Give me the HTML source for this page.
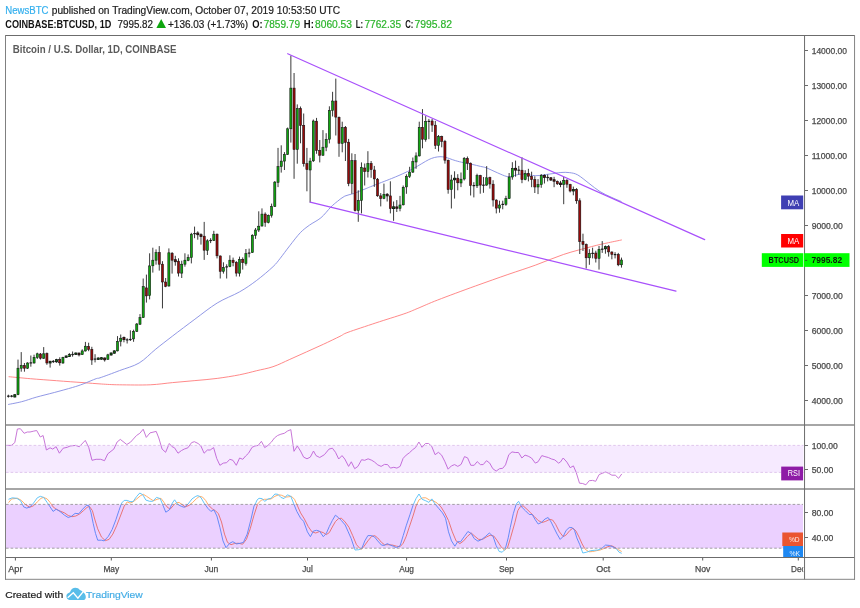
<!DOCTYPE html>
<html lang="en"><head><meta charset="utf-8"><title>BTCUSD chart</title>
<style>html,body{margin:0;padding:0;background:#fff}body{width:860px;height:608px;overflow:hidden}svg{display:block}text{font-family:"Liberation Sans",Arial,sans-serif}</style></head><body>
<svg width="860" height="608" viewBox="0 0 860 608">
<rect width="860" height="608" fill="#fff"/>
<text x="5.3" y="13.8" font-size="10" fill="#35b0ee" textLength="43.2" lengthAdjust="spacingAndGlyphs" stroke="#35b0ee" stroke-width="0.2">NewsBTC</text>
<text x="51.8" y="13.8" font-size="10" fill="#1c1c1c" textLength="288.3" lengthAdjust="spacingAndGlyphs" stroke="#1c1c1c" stroke-width="0.2">published on TradingView.com, October 07, 2019 10:53:50 UTC</text>
<text x="5.3" y="27.6" font-size="10.2" fill="#111" font-weight="bold" textLength="106" lengthAdjust="spacingAndGlyphs">COINBASE:BTCUSD, 1D</text>
<text x="117.5" y="27.6" font-size="10" fill="#1c1c1c" textLength="35.5" lengthAdjust="spacingAndGlyphs" stroke="#1c1c1c" stroke-width="0.2">7995.82</text>
<polygon points="156.4,28 166,28 161.2,19" fill="#0fa60f"/>
<text x="168" y="27.6" font-size="10" fill="#1c1c1c" textLength="80" lengthAdjust="spacingAndGlyphs" stroke="#1c1c1c" stroke-width="0.2">+136.03 (+1.73%)</text>
<text x="252.3" y="27.6" font-size="10.2" fill="#111" font-weight="bold" textLength="10.4" lengthAdjust="spacingAndGlyphs">O:</text>
<text x="263.7" y="27.6" font-size="10" fill="#2db52d" textLength="36.3" lengthAdjust="spacingAndGlyphs" stroke="#2db52d" stroke-width="0.2">7859.79</text>
<text x="303.8" y="27.6" font-size="10.2" fill="#111" font-weight="bold" textLength="10" lengthAdjust="spacingAndGlyphs">H:</text>
<text x="315" y="27.6" font-size="10" fill="#2db52d" textLength="37" lengthAdjust="spacingAndGlyphs" stroke="#2db52d" stroke-width="0.2">8060.53</text>
<text x="355.8" y="27.6" font-size="10.2" fill="#111" font-weight="bold" textLength="7.4" lengthAdjust="spacingAndGlyphs">L:</text>
<text x="364.5" y="27.6" font-size="10" fill="#2db52d" textLength="36.5" lengthAdjust="spacingAndGlyphs" stroke="#2db52d" stroke-width="0.2">7762.35</text>
<text x="405.2" y="27.6" font-size="10.2" fill="#111" font-weight="bold" textLength="8.1" lengthAdjust="spacingAndGlyphs">C:</text>
<text x="414.5" y="27.6" font-size="10" fill="#2db52d" textLength="37.5" lengthAdjust="spacingAndGlyphs" stroke="#2db52d" stroke-width="0.2">7995.82</text>
<defs><clipPath id="cm"><rect x="6" y="36" width="798" height="388"/></clipPath><clipPath id="ct"><rect x="6" y="558" width="797.2" height="21"/></clipPath></defs>
<path d="M6.2,445.4 L11.4,445.4 L14.8,442.6 L17.4,429.0 L20.4,428.7 L24.1,433.3 L27.3,432.0 L30.0,432.0 L33.8,431.1 L36.7,430.5 L40.3,437.0 L43.1,435.5 L46.4,450.0 L50.1,447.8 L52.7,449.1 L56.1,446.7 L59.4,453.2 L63.2,448.2 L67.3,447.3 L70.0,446.0 L75.6,445.4 L79.3,446.7 L85.3,440.4 L88.7,447.3 L92.0,460.3 L96.1,459.3 L100.7,459.3 L104.5,460.7 L107.8,453.8 L113.8,449.1 L117.1,442.0 L120.3,439.4 L126.8,444.5 L130.5,442.2 L136.5,435.5 L139.8,433.3 L143.2,429.2 L146.3,437.4 L150.0,432.9 L156.2,431.4 L158.8,438.0 L162.1,449.1 L165.6,452.3 L169.3,443.5 L172.1,446.7 L174.5,447.8 L178.0,453.2 L181.4,450.6 L184.2,449.1 L187.9,447.8 L191.6,442.6 L194.4,441.7 L198.1,443.5 L200.9,446.0 L204.1,453.2 L207.4,450.0 L210.2,450.0 L213.6,447.6 L216.7,458.4 L219.9,465.3 L223.3,463.1 L226.6,462.7 L229.8,459.3 L232.9,460.3 L236.3,465.3 L239.6,458.0 L242.8,459.3 L245.6,456.0 L248.4,453.4 L252.1,447.3 L254.9,446.0 L258.2,445.4 L261.4,441.3 L264.7,447.6 L267.9,445.4 L271.3,442.2 L274.4,438.0 L277.6,435.5 L280.9,434.2 L284.3,433.3 L287.4,431.1 L290.8,429.6 L294.0,451.3 L297.3,446.0 L300.5,451.0 L303.6,457.1 L307.0,458.8 L310.3,457.1 L313.5,451.0 L316.0,455.6 L319.7,457.5 L324.4,454.7 L329.0,449.1 L332.4,448.2 L335.5,452.3 L338.7,459.0 L342.0,455.6 L344.8,459.0 L348.6,466.4 L351.3,461.8 L354.7,468.7 L357.9,466.4 L361.6,459.7 L364.7,460.3 L368.1,458.8 L371.8,460.3 L374.6,462.1 L377.8,464.9 L381.1,466.4 L384.5,464.4 L387.6,464.6 L390.4,468.1 L393.8,467.3 L396.9,468.1 L400.1,466.4 L403.1,458.4 L406.2,455.1 L409.4,452.8 L412.7,449.7 L415.5,447.6 L418.9,442.0 L422.0,447.3 L425.4,443.5 L428.6,443.5 L431.7,446.3 L435.1,454.7 L438.4,452.3 L441.6,455.1 L444.7,461.2 L448.1,469.2 L451.4,465.9 L454.6,464.6 L457.8,466.4 L461.1,464.4 L464.5,456.6 L467.6,457.9 L470.8,465.3 L472.0,465.3 L474.2,465.3 L477.2,461.6 L480.4,464.6 L483.2,464.6 L486.5,460.7 L489.7,463.1 L492.8,468.7 L496.2,471.1 L499.5,468.7 L502.7,468.3 L505.5,464.9 L508.8,454.7 L512.0,451.9 L515.2,452.5 L518.5,452.5 L521.9,458.0 L525.0,455.1 L528.2,456.2 L531.5,458.0 L535.3,463.1 L538.0,461.8 L541.8,455.6 L544.9,456.6 L548.3,457.5 L551.6,459.0 L554.8,459.9 L558.5,463.1 L560.4,462.1 L563.2,458.0 L566.9,462.1 L570.2,467.7 L573.4,465.9 L576.2,472.4 L579.5,483.2 L582.7,483.5 L585.9,484.8 L589.2,480.7 L592.6,480.4 L595.7,481.3 L599.1,474.6 L602.2,473.3 L605.6,472.0 L608.7,473.3 L611.9,475.2 L615.3,475.2 L618.6,478.3 L621.8,473.9" fill="none" stroke="#c978d8" stroke-width="1" stroke-linejoin="round"/>
<rect x="6" y="445.4" width="797.5" height="27" fill="rgb(153,21,255)" fill-opacity="0.09"/>
<path d="M6,445.4H803.5M6,472.4H803.5" stroke="#dcc0ea" stroke-width="0.85" stroke-dasharray="2.6 2" fill="none"/>
<defs><clipPath id="cso"><path d="M0,489H860V504.4H0ZM0,548.2H860V557H0Z"/></clipPath><clipPath id="csi"><rect x="0" y="504.4" width="860" height="43.8"/></clipPath></defs>
<g clip-path="url(#cso)"><path d="M8.5,502.7 L11.6,498.9 L17.6,498.3 L21.4,500.4 L25.2,504.3 L29.7,507.3 L33.5,505.8 L37.3,501.9 L41.0,498.3 L43.6,497.4 L47.1,498.9 L50.1,502.4 L53.1,506.9 L56.2,509.2 L59.9,511.0 L64.5,512.9 L68.2,515.5 L72.0,516.7 L75.8,516.0 L79.6,514.0 L83.4,510.7 L87.1,507.3 L89.4,506.4 L92.4,510.7 L94.7,519.0 L97.7,528.8 L101.5,537.1 L105.3,540.6 L109.1,539.4 L112.8,534.1 L116.6,525.8 L120.4,516.0 L124.2,506.1 L127.2,501.9 L130.0,503.1 L133.0,501.9 L136.8,498.9 L140.6,495.6 L143.3,494.3 L146.6,496.3 L150.4,498.9 L153.4,500.8 L157.2,499.3 L161.0,498.3 L164.0,502.4 L167.0,506.9 L170.1,509.2 L173.1,505.8 L176.1,502.8 L179.1,502.4 L182.2,504.6 L185.2,506.9 L189.0,505.4 L192.7,502.4 L196.5,498.6 L199.5,496.3 L202.6,497.1 L205.6,500.4 L208.6,505.4 L212.4,508.9 L215.4,510.7 L218.4,513.7 L221.5,522.0 L224.5,534.1 L227.5,542.4 L231.0,544.7 L234.3,543.6 L238.1,543.2 L242.6,544.2 L246.4,539.4 L250.2,528.8 L254.0,515.2 L257.7,503.9 L261.3,500.1 L264.3,499.3 L268.1,499.3 L271.1,498.9 L274.9,496.3 L278.7,494.8 L281.7,495.3 L285.5,497.1 L288.5,496.8 L291.5,496.3 L294.5,499.3 L297.6,506.1 L300.6,512.9 L304.4,519.0 L308.2,526.5 L311.9,531.8 L315.7,533.0 L319.5,531.5 L323.3,532.6 L326.3,534.6 L329.3,532.6 L332.3,527.0 L335.4,521.6 L338.4,518.7 L341.4,518.2 L345.2,522.0 L349.0,527.3 L352.7,535.6 L356.5,544.7 L361.1,549.7 L364.1,546.2 L367.9,540.9 L371.6,536.4 L374.7,535.6 L377.7,537.9 L381.5,542.4 L384.5,544.7 L388.8,544.7 L392.6,545.1 L396.4,546.2 L400.1,546.7 L403.2,543.2 L406.2,536.4 L409.2,527.3 L413.0,516.0 L416.0,506.1 L419.0,499.8 L422.8,497.8 L425.8,497.8 L429.6,500.1 L433.4,500.8 L437.2,503.1 L441.0,506.9 L444.7,512.9 L448.5,520.5 L452.3,531.8 L456.1,540.9 L459.9,543.6 L463.6,540.9 L467.4,536.4 L471.2,533.0 L475.0,536.4 L478.7,539.4 L482.5,539.4 L486.3,537.1 L490.1,535.2 L493.9,536.1 L496.9,540.2 L500.7,546.2 L504.4,550.3 L507.5,547.7 L510.5,537.9 L514.8,522.8 L517.8,510.7 L520.1,506.9 L523.1,505.8 L526.9,509.2 L530.7,512.9 L534.5,516.7 L538.2,520.5 L542.0,522.5 L545.8,521.3 L549.6,519.4 L552.6,520.0 L555.6,524.3 L559.4,531.8 L563.2,536.7 L566.2,534.9 L570.0,530.3 L573.0,528.1 L576.0,531.1 L579.1,537.1 L582.1,543.9 L585.1,549.2 L588.9,551.8 L592.7,551.5 L596.4,550.7 L600.2,550.0 L604.0,548.5 L607.8,546.7 L611.6,545.7 L615.3,547.7 L618.4,549.7 L621.7,551.5" fill="none" stroke="#ffaa62" stroke-width="0.95" stroke-linejoin="round"/>
<path d="M8.5,499.3 L12.3,497.8 L16.8,498.3 L20.6,500.8 L23.7,506.9 L26.7,508.1 L30.0,506.9 L33.5,503.1 L37.3,497.8 L40.3,496.3 L43.6,497.4 L47.1,502.4 L50.1,506.9 L53.1,511.4 L56.2,509.2 L59.9,511.4 L64.5,515.2 L68.2,517.5 L71.3,516.4 L75.1,513.4 L78.8,513.7 L82.6,509.2 L86.4,505.4 L88.7,505.4 L90.9,512.2 L93.2,523.5 L95.5,533.4 L97.7,540.2 L101.5,540.2 L104.1,540.9 L108.3,536.4 L112.1,529.6 L115.9,519.7 L118.9,510.7 L121.6,503.1 L124.2,500.4 L127.2,500.4 L130.0,501.6 L133.0,501.6 L136.8,496.3 L139.8,493.0 L142.8,494.8 L145.9,500.1 L149.7,501.3 L152.7,501.3 L156.5,497.4 L160.2,498.6 L163.3,506.1 L165.8,512.2 L169.3,509.9 L172.3,503.1 L174.6,499.8 L177.6,504.3 L181.4,506.4 L184.4,507.3 L188.2,503.9 L192.0,498.9 L195.8,496.3 L198.0,495.6 L201.1,497.8 L204.1,503.1 L207.9,508.4 L210.9,511.4 L213.9,509.9 L216.9,516.0 L219.9,527.3 L223.0,540.9 L226.0,547.7 L229.8,543.2 L232.8,541.7 L236.6,543.9 L240.4,543.2 L243.4,542.4 L247.2,534.1 L250.9,519.7 L254.0,506.1 L256.0,502.4 L257.0,500.1 L259.0,498.3 L262.0,498.6 L264.8,501.3 L268.1,498.9 L271.1,498.3 L274.9,494.0 L277.9,494.3 L280.9,497.4 L284.0,498.6 L287.4,494.8 L290.8,496.3 L293.8,503.9 L296.8,511.4 L300.6,518.2 L303.6,521.3 L307.4,531.8 L310.4,536.7 L313.4,531.1 L316.5,530.3 L319.5,531.1 L323.3,536.7 L326.3,533.4 L329.3,526.5 L332.3,520.5 L335.4,515.2 L338.4,517.5 L341.4,520.5 L345.2,525.0 L348.2,531.8 L351.2,538.6 L355.0,550.0 L358.8,549.7 L361.8,548.5 L364.8,540.9 L367.9,535.6 L371.6,535.6 L374.7,537.1 L377.7,540.9 L381.5,545.1 L384.3,545.4 L387.3,543.6 L390.3,545.1 L393.3,546.2 L396.4,547.7 L400.1,545.7 L403.2,535.6 L406.2,525.8 L410.0,514.5 L413.0,505.4 L416.0,498.6 L419.0,494.0 L422.1,499.3 L425.8,500.8 L428.9,502.4 L431.9,498.9 L434.9,503.9 L438.7,508.4 L442.5,512.9 L445.5,518.2 L448.5,531.8 L451.5,540.9 L454.9,546.2 L457.6,541.7 L460.6,541.7 L464.4,536.4 L467.9,531.5 L471.2,533.4 L474.2,538.6 L478.0,541.2 L481.8,539.4 L485.6,536.4 L489.3,533.0 L493.1,536.4 L496.1,545.4 L499.2,551.5 L502.2,552.2 L505.2,549.2 L508.2,537.9 L510.3,527.3 L513.3,513.7 L516.3,503.9 L518.6,501.3 L521.6,506.9 L525.4,510.7 L529.2,514.5 L532.2,514.5 L535.2,519.7 L538.2,524.0 L541.3,522.5 L545.0,519.0 L548.1,517.5 L551.1,522.0 L554.1,528.1 L557.1,534.1 L560.2,539.4 L563.2,536.4 L566.2,530.3 L569.2,527.6 L572.2,527.6 L574.5,530.3 L576.8,537.9 L579.8,544.7 L582.8,553.0 L586.6,552.2 L590.4,550.7 L594.2,550.3 L597.9,550.0 L601.7,548.5 L605.5,545.1 L609.3,545.4 L613.1,547.0 L616.1,548.5 L619.1,552.2 L621.7,553.3" fill="none" stroke="#5cc2f8" stroke-width="0.95" stroke-linejoin="round"/></g>
<rect x="6" y="504.4" width="797" height="43.8" fill="rgb(153,21,255)" fill-opacity="0.2"/>
<g clip-path="url(#csi)"><path d="M8.5,502.7 L11.6,498.9 L17.6,498.3 L21.4,500.4 L25.2,504.3 L29.7,507.3 L33.5,505.8 L37.3,501.9 L41.0,498.3 L43.6,497.4 L47.1,498.9 L50.1,502.4 L53.1,506.9 L56.2,509.2 L59.9,511.0 L64.5,512.9 L68.2,515.5 L72.0,516.7 L75.8,516.0 L79.6,514.0 L83.4,510.7 L87.1,507.3 L89.4,506.4 L92.4,510.7 L94.7,519.0 L97.7,528.8 L101.5,537.1 L105.3,540.6 L109.1,539.4 L112.8,534.1 L116.6,525.8 L120.4,516.0 L124.2,506.1 L127.2,501.9 L130.0,503.1 L133.0,501.9 L136.8,498.9 L140.6,495.6 L143.3,494.3 L146.6,496.3 L150.4,498.9 L153.4,500.8 L157.2,499.3 L161.0,498.3 L164.0,502.4 L167.0,506.9 L170.1,509.2 L173.1,505.8 L176.1,502.8 L179.1,502.4 L182.2,504.6 L185.2,506.9 L189.0,505.4 L192.7,502.4 L196.5,498.6 L199.5,496.3 L202.6,497.1 L205.6,500.4 L208.6,505.4 L212.4,508.9 L215.4,510.7 L218.4,513.7 L221.5,522.0 L224.5,534.1 L227.5,542.4 L231.0,544.7 L234.3,543.6 L238.1,543.2 L242.6,544.2 L246.4,539.4 L250.2,528.8 L254.0,515.2 L257.7,503.9 L261.3,500.1 L264.3,499.3 L268.1,499.3 L271.1,498.9 L274.9,496.3 L278.7,494.8 L281.7,495.3 L285.5,497.1 L288.5,496.8 L291.5,496.3 L294.5,499.3 L297.6,506.1 L300.6,512.9 L304.4,519.0 L308.2,526.5 L311.9,531.8 L315.7,533.0 L319.5,531.5 L323.3,532.6 L326.3,534.6 L329.3,532.6 L332.3,527.0 L335.4,521.6 L338.4,518.7 L341.4,518.2 L345.2,522.0 L349.0,527.3 L352.7,535.6 L356.5,544.7 L361.1,549.7 L364.1,546.2 L367.9,540.9 L371.6,536.4 L374.7,535.6 L377.7,537.9 L381.5,542.4 L384.5,544.7 L388.8,544.7 L392.6,545.1 L396.4,546.2 L400.1,546.7 L403.2,543.2 L406.2,536.4 L409.2,527.3 L413.0,516.0 L416.0,506.1 L419.0,499.8 L422.8,497.8 L425.8,497.8 L429.6,500.1 L433.4,500.8 L437.2,503.1 L441.0,506.9 L444.7,512.9 L448.5,520.5 L452.3,531.8 L456.1,540.9 L459.9,543.6 L463.6,540.9 L467.4,536.4 L471.2,533.0 L475.0,536.4 L478.7,539.4 L482.5,539.4 L486.3,537.1 L490.1,535.2 L493.9,536.1 L496.9,540.2 L500.7,546.2 L504.4,550.3 L507.5,547.7 L510.5,537.9 L514.8,522.8 L517.8,510.7 L520.1,506.9 L523.1,505.8 L526.9,509.2 L530.7,512.9 L534.5,516.7 L538.2,520.5 L542.0,522.5 L545.8,521.3 L549.6,519.4 L552.6,520.0 L555.6,524.3 L559.4,531.8 L563.2,536.7 L566.2,534.9 L570.0,530.3 L573.0,528.1 L576.0,531.1 L579.1,537.1 L582.1,543.9 L585.1,549.2 L588.9,551.8 L592.7,551.5 L596.4,550.7 L600.2,550.0 L604.0,548.5 L607.8,546.7 L611.6,545.7 L615.3,547.7 L618.4,549.7 L621.7,551.5" fill="none" stroke="#e87070" stroke-width="0.95" stroke-linejoin="round"/>
<path d="M8.5,499.3 L12.3,497.8 L16.8,498.3 L20.6,500.8 L23.7,506.9 L26.7,508.1 L30.0,506.9 L33.5,503.1 L37.3,497.8 L40.3,496.3 L43.6,497.4 L47.1,502.4 L50.1,506.9 L53.1,511.4 L56.2,509.2 L59.9,511.4 L64.5,515.2 L68.2,517.5 L71.3,516.4 L75.1,513.4 L78.8,513.7 L82.6,509.2 L86.4,505.4 L88.7,505.4 L90.9,512.2 L93.2,523.5 L95.5,533.4 L97.7,540.2 L101.5,540.2 L104.1,540.9 L108.3,536.4 L112.1,529.6 L115.9,519.7 L118.9,510.7 L121.6,503.1 L124.2,500.4 L127.2,500.4 L130.0,501.6 L133.0,501.6 L136.8,496.3 L139.8,493.0 L142.8,494.8 L145.9,500.1 L149.7,501.3 L152.7,501.3 L156.5,497.4 L160.2,498.6 L163.3,506.1 L165.8,512.2 L169.3,509.9 L172.3,503.1 L174.6,499.8 L177.6,504.3 L181.4,506.4 L184.4,507.3 L188.2,503.9 L192.0,498.9 L195.8,496.3 L198.0,495.6 L201.1,497.8 L204.1,503.1 L207.9,508.4 L210.9,511.4 L213.9,509.9 L216.9,516.0 L219.9,527.3 L223.0,540.9 L226.0,547.7 L229.8,543.2 L232.8,541.7 L236.6,543.9 L240.4,543.2 L243.4,542.4 L247.2,534.1 L250.9,519.7 L254.0,506.1 L256.0,502.4 L257.0,500.1 L259.0,498.3 L262.0,498.6 L264.8,501.3 L268.1,498.9 L271.1,498.3 L274.9,494.0 L277.9,494.3 L280.9,497.4 L284.0,498.6 L287.4,494.8 L290.8,496.3 L293.8,503.9 L296.8,511.4 L300.6,518.2 L303.6,521.3 L307.4,531.8 L310.4,536.7 L313.4,531.1 L316.5,530.3 L319.5,531.1 L323.3,536.7 L326.3,533.4 L329.3,526.5 L332.3,520.5 L335.4,515.2 L338.4,517.5 L341.4,520.5 L345.2,525.0 L348.2,531.8 L351.2,538.6 L355.0,550.0 L358.8,549.7 L361.8,548.5 L364.8,540.9 L367.9,535.6 L371.6,535.6 L374.7,537.1 L377.7,540.9 L381.5,545.1 L384.3,545.4 L387.3,543.6 L390.3,545.1 L393.3,546.2 L396.4,547.7 L400.1,545.7 L403.2,535.6 L406.2,525.8 L410.0,514.5 L413.0,505.4 L416.0,498.6 L419.0,494.0 L422.1,499.3 L425.8,500.8 L428.9,502.4 L431.9,498.9 L434.9,503.9 L438.7,508.4 L442.5,512.9 L445.5,518.2 L448.5,531.8 L451.5,540.9 L454.9,546.2 L457.6,541.7 L460.6,541.7 L464.4,536.4 L467.9,531.5 L471.2,533.4 L474.2,538.6 L478.0,541.2 L481.8,539.4 L485.6,536.4 L489.3,533.0 L493.1,536.4 L496.1,545.4 L499.2,551.5 L502.2,552.2 L505.2,549.2 L508.2,537.9 L510.3,527.3 L513.3,513.7 L516.3,503.9 L518.6,501.3 L521.6,506.9 L525.4,510.7 L529.2,514.5 L532.2,514.5 L535.2,519.7 L538.2,524.0 L541.3,522.5 L545.0,519.0 L548.1,517.5 L551.1,522.0 L554.1,528.1 L557.1,534.1 L560.2,539.4 L563.2,536.4 L566.2,530.3 L569.2,527.6 L572.2,527.6 L574.5,530.3 L576.8,537.9 L579.8,544.7 L582.8,553.0 L586.6,552.2 L590.4,550.7 L594.2,550.3 L597.9,550.0 L601.7,548.5 L605.5,545.1 L609.3,545.4 L613.1,547.0 L616.1,548.5 L619.1,552.2 L621.7,553.3" fill="none" stroke="#5f86f8" stroke-width="0.95" stroke-linejoin="round"/></g>
<path d="M6,504.4H803M6,548.2H803" stroke="#868686" stroke-width="0.75" stroke-dasharray="2.6 2" fill="none"/>
<g clip-path="url(#cm)">
<path d="M8.6,376.7 C12.2,377.0 22.3,378.0 30.3,378.7 C38.3,379.4 47.8,380.0 56.6,380.7 C65.4,381.4 75.5,382.1 83.0,382.6 C90.5,383.2 95.3,383.6 101.4,384.0 C107.5,384.4 111.4,384.7 119.5,384.8 C127.6,384.9 141.3,385.2 150.2,384.8 C159.0,384.4 165.1,383.3 172.6,382.6 C180.1,381.9 187.5,381.3 194.9,380.6 C202.3,379.9 209.8,379.4 217.2,378.4 C224.6,377.4 233.0,376.1 239.5,374.8 C246.0,373.5 250.7,372.2 256.3,370.8 C261.9,369.4 267.4,368.6 273.0,366.7 C278.6,364.8 284.2,361.9 289.8,359.4 C295.4,356.9 300.9,354.4 306.5,351.9 C312.1,349.4 317.7,346.9 323.3,344.3 C328.9,341.7 335.9,338.3 340.0,336.3 C344.1,334.3 342.0,334.5 348.0,332.3 C354.0,330.1 366.6,326.0 375.9,322.9 C385.2,319.8 396.9,316.3 403.9,313.9 C410.9,311.5 412.3,310.6 417.9,308.3 C423.5,306.0 428.1,303.7 437.7,300.0 C447.3,296.3 463.7,290.2 475.4,286.0 C487.1,281.8 497.8,278.0 507.9,274.5 C518.0,271.0 526.5,268.4 535.8,265.0 C545.1,261.6 554.4,257.5 563.7,254.4 C573.0,251.3 584.2,248.6 591.6,246.6 C599.0,244.6 603.4,243.8 608.4,242.7 C613.4,241.6 619.6,240.4 621.8,239.9" fill="none" stroke="#ff7c7c" stroke-width="0.9" stroke-linejoin="round"/>
<path d="M8.2,404.5 C10.4,404.0 17.0,402.9 21.7,401.7 C26.4,400.5 30.8,398.7 36.2,397.2 C41.6,395.7 48.3,394.1 54.3,392.5 C60.3,390.9 67.6,388.9 72.4,387.5 C77.2,386.1 79.0,385.5 83.0,384.0 C87.0,382.5 93.3,379.7 96.1,378.7 C98.9,377.7 96.1,379.1 100.0,377.8 C103.9,376.5 113.0,373.1 119.5,370.6 C126.0,368.1 133.0,366.6 139.1,363.0 C145.2,359.4 150.2,353.6 155.8,349.1 C161.4,344.6 166.1,341.0 172.6,336.0 C179.1,331.0 187.5,324.7 194.9,319.2 C202.3,313.7 209.8,307.6 217.2,303.0 C224.6,298.4 233.0,295.6 239.5,291.9 C246.0,288.2 250.7,284.9 256.3,280.7 C261.9,276.5 269.1,270.4 273.0,266.7 C276.9,263.0 277.2,262.1 280.0,258.6 C282.8,255.1 286.3,250.1 289.7,245.8 C293.1,241.5 297.1,236.0 300.4,232.6 C303.7,229.2 306.0,227.7 309.4,225.2 C312.8,222.7 317.3,220.8 320.9,217.8 C324.5,214.8 328.1,209.8 330.8,207.1 C333.6,204.4 335.1,203.2 337.4,201.4 C339.7,199.6 342.1,197.4 344.8,196.1 C347.5,194.8 350.4,194.7 353.8,193.5 C357.2,192.3 361.9,190.2 365.0,189.0 C368.1,187.8 367.7,187.8 372.1,186.1 C376.5,184.3 386.1,180.7 391.6,178.5 C397.1,176.3 401.4,174.4 405.0,172.7 C408.6,171.0 410.6,170.0 413.4,168.5 C416.2,167.0 419.2,165.1 421.8,163.6 C424.4,162.1 426.7,160.6 428.8,159.6 C430.9,158.6 432.5,158.0 434.4,157.5 C436.3,157.0 438.2,156.8 440.0,156.7 C441.8,156.6 443.3,156.9 444.9,157.2 C446.5,157.5 448.1,158.1 449.8,158.7 C451.5,159.3 453.0,159.9 455.3,160.6 C457.6,161.3 460.9,162.1 463.7,162.7 C466.5,163.3 469.3,163.8 472.1,164.4 C474.9,165.0 478.1,165.8 480.5,166.4 C482.9,167.0 483.6,166.8 486.5,167.9 C489.4,169.0 494.4,171.5 497.7,172.9 C501.0,174.3 503.8,175.7 506.1,176.3 C508.4,176.9 509.0,176.7 511.6,176.3 C514.2,175.9 517.9,174.1 521.9,174.0 C525.9,173.9 531.1,175.7 535.8,175.7 C540.4,175.7 545.6,174.5 549.8,174.0 C554.0,173.5 557.6,172.7 560.9,172.5 C564.1,172.3 566.5,172.2 569.3,172.6 C572.1,173.0 574.4,173.1 577.7,174.9 C581.0,176.7 585.2,180.5 588.9,183.3 C592.6,186.1 596.3,189.3 600.0,191.6 C603.7,193.9 607.6,195.5 611.2,197.2 C614.8,198.9 619.8,200.9 621.5,201.6" fill="none" stroke="#848ce2" stroke-width="0.9" stroke-linejoin="round"/>
<path d="M8.38,394.7V397.6M11.59,395.0V397.3M14.80,394.2V397.4M18.01,359.6V395.2M21.22,352.1V371.7M24.43,363.0V371.7M27.64,362.2V369.0M30.85,355.5V366.7M34.06,354.7V363.6M37.27,352.7V359.0M40.48,353.0V359.5M43.69,347.1V359.0M46.90,352.5V364.8M50.11,360.8V367.6M53.32,360.0V363.0M56.53,358.8V362.8M59.74,357.3V365.6M62.95,356.8V363.8M66.16,355.4V357.8M69.37,353.1V357.0M72.58,351.5V356.7M75.79,352.5V355.0M79.00,352.6V356.4M82.21,349.3V355.0M85.42,341.9V351.5M88.63,342.7V351.2M91.84,346.8V364.9M95.05,354.2V362.4M98.26,357.4V360.0M101.47,357.0V359.8M104.68,357.5V361.6M107.89,353.8V359.8M111.10,352.4V355.6M114.31,350.2V353.8M117.52,336.1V351.4M120.73,334.5V346.4M123.94,336.5V342.3M127.15,338.2V343.5M130.36,330.3V341.0M133.57,329.7V341.8M136.78,323.0V332.0M139.99,314.1V325.0M143.20,278.5V318.0M146.41,274.6V302.6M149.62,253.3V299.4M152.83,247.7V272.6M156.04,249.4V264.7M159.25,246.1V270.6M162.46,261.2V308.4M165.67,278.0V287.2M168.88,248.4V286.6M172.09,252.0V273.6M175.30,255.8V265.7M178.51,258.3V276.5M181.72,260.7V278.0M184.93,253.3V266.7M188.14,254.4V261.2M191.35,232.8V263.4M194.56,226.6V238.2M197.77,231.3V239.7M200.98,233.3V244.6M204.19,221.9V259.9M207.40,239.2V255.0M210.61,238.2V243.1M213.82,230.8V241.0M217.03,233.5V258.4M220.24,255.4V278.5M223.45,262.3V273.6M226.66,264.3V278.5M229.87,255.3V267.2M233.08,257.6V266.3M236.29,261.1V276.5M239.50,256.6V276.5M242.71,257.4V269.6M245.92,249.0V265.6M249.13,248.6V257.4M252.34,234.2V253.0M255.55,228.0V238.9M258.76,211.3V232.0M261.97,208.4V226.6M265.18,212.4V226.8M268.39,214.5V223.4M271.60,203.6V217.6M274.81,181.0V207.0M278.02,147.9V187.1M281.23,145.3V172.6M284.44,152.1V170.0M287.65,127.5V155.0M290.86,55.5V142.6M294.07,73.0V178.8M297.28,104.4V163.7M300.49,106.5V143.3M303.70,113.5V166.6M306.91,147.9V191.3M310.12,157.8V202.5M313.33,119.5V162.0M316.54,117.9V153.8M319.75,140.0V162.4M322.96,130.1V156.0M326.17,133.2V151.2M329.38,106.3V143.4M332.59,91.8V116.5M335.80,78.6V135.5M339.01,116.5V156.8M342.22,121.7V152.3M345.43,126.0V161.0M348.64,138.9V186.2M351.85,153.3V193.8M355.06,154.0V211.5M358.27,190.3V221.8M361.48,162.4V213.4M364.69,163.5V185.5M367.90,151.2V177.5M371.11,161.0V177.8M374.32,165.9V186.9M377.53,178.0V196.8M380.74,193.1V206.4M383.95,183.6V199.2M387.16,193.0V201.5M390.37,181.3V213.4M393.58,201.5V220.8M396.79,200.1V212.0M400.00,195.9V211.3M403.21,185.5V205.5M406.42,174.3V193.8M409.63,166.8V178.0M412.84,157.5V173.0M416.05,152.4V168.8M419.26,121.7V156.5M422.47,109.1V148.3M425.68,116.1V141.7M428.89,118.9V139.2M432.10,118.9V131.9M435.31,121.0V149.0M438.52,135.0V151.5M441.73,135.7V147.3M444.94,139.9V163.6M448.15,159.5V193.7M451.36,174.8V208.5M454.57,171.3V198.6M457.78,174.2V190.3M460.99,172.5V187.1M464.20,157.0V180.5M467.41,156.5V170.0M470.62,162.5V195.5M473.83,182.2V197.4M477.04,173.7V188.0M480.25,174.8V193.7M483.46,177.0V192.8M486.67,166.1V185.8M489.88,176.7V188.6M493.09,180.2V206.6M496.30,199.3V213.4M499.51,200.7V212.7M502.72,200.7V209.3M505.93,195.8V205.8M509.14,173.0V199.0M512.35,162.2V179.7M515.56,160.6V176.7M518.77,165.9V174.6M521.98,157.3V183.2M525.19,170.2V180.3M528.40,168.8V181.4M531.61,171.7V187.2M534.82,176.3V193.0M538.03,179.1V194.1M541.24,174.0V187.8M544.45,174.3V183.5M547.66,174.5V181.4M550.87,177.0V181.0M554.08,176.8V187.2M557.29,180.5V185.0M560.50,180.9V187.2M563.71,176.8V204.2M566.92,179.1V187.8M570.13,183.8V192.4M573.34,186.6V195.3M576.55,188.1V203.8M579.76,198.3V254.0M582.97,233.7V251.0M586.18,243.5V268.5M589.39,249.2V264.8M592.60,247.7V258.4M595.81,250.7V262.5M599.02,246.0V269.6M602.23,241.1V252.9M605.44,245.5V253.7M608.65,245.0V256.6M611.86,251.4V259.3M615.07,252.2V258.4M618.28,252.9V266.2M621.49,257.6V267.6" stroke="#3a3a3a" stroke-width="1" fill="none"/>
<g fill="#1a1a1a"><rect x="7.08" y="395.6" width="2.6" height="1.2"/><rect x="10.29" y="395.6" width="2.6" height="1.2"/><rect x="29.55" y="362.3" width="2.6" height="1.2"/><rect x="52.02" y="360.9" width="2.6" height="1.2"/><rect x="71.28" y="353.9" width="2.6" height="1.2"/><rect x="93.75" y="358.5" width="2.6" height="1.2"/><rect x="125.85" y="339.3" width="2.6" height="1.2"/><rect x="129.06" y="338.9" width="2.6" height="1.2"/><rect x="193.26" y="233.0" width="2.6" height="1.2"/><rect x="209.31" y="239.9" width="2.6" height="1.2"/><rect x="225.36" y="266.3" width="2.6" height="1.2"/><rect x="247.83" y="252.5" width="2.6" height="1.2"/><rect x="427.59" y="120.8" width="2.6" height="1.2"/><rect x="472.53" y="185.0" width="2.6" height="1.2"/><rect x="482.16" y="184.6" width="2.6" height="1.2"/><rect x="501.42" y="203.8" width="2.6" height="1.2"/><rect x="517.47" y="169.6" width="2.6" height="1.2"/><rect x="546.36" y="176.9" width="2.6" height="1.2"/><rect x="591.30" y="252.8" width="2.6" height="1.2"/><rect x="600.93" y="248.6" width="2.6" height="1.2"/><rect x="613.77" y="254.0" width="2.6" height="1.2"/></g>
<g fill="#10a510" stroke="#111" stroke-width="0.55"><rect x="16.96" y="368.2" width="2.1" height="26.5"/><rect x="20.17" y="365.6" width="2.1" height="2.6"/><rect x="26.59" y="363.0" width="2.1" height="5.2"/><rect x="33.01" y="357.3" width="2.1" height="5.7"/><rect x="36.22" y="353.8" width="2.1" height="3.8"/><rect x="42.64" y="353.8" width="2.1" height="4.4"/><rect x="61.90" y="357.4" width="2.1" height="5.6"/><rect x="81.16" y="350.9" width="2.1" height="3.7"/><rect x="84.37" y="346.2" width="2.1" height="4.8"/><rect x="106.84" y="354.8" width="2.1" height="4.5"/><rect x="116.47" y="341.4" width="2.1" height="9.5"/><rect x="119.68" y="338.2" width="2.1" height="3.0"/><rect x="132.52" y="331.4" width="2.1" height="7.5"/><rect x="135.73" y="324.0" width="2.1" height="7.4"/><rect x="138.94" y="317.6" width="2.1" height="6.6"/><rect x="142.15" y="286.7" width="2.1" height="30.9"/><rect x="148.57" y="265.9" width="2.1" height="29.6"/><rect x="151.78" y="260.2" width="2.1" height="5.6"/><rect x="154.99" y="252.6" width="2.1" height="7.6"/><rect x="167.83" y="252.8" width="2.1" height="33.2"/><rect x="180.67" y="264.2" width="2.1" height="8.9"/><rect x="183.88" y="260.2" width="2.1" height="4.0"/><rect x="187.09" y="257.5" width="2.1" height="3.0"/><rect x="190.30" y="234.2" width="2.1" height="23.3"/><rect x="206.35" y="240.8" width="2.1" height="9.6"/><rect x="212.77" y="234.2" width="2.1" height="6.3"/><rect x="222.40" y="267.6" width="2.1" height="3.7"/><rect x="228.82" y="260.2" width="2.1" height="6.4"/><rect x="238.45" y="259.4" width="2.1" height="13.8"/><rect x="244.87" y="253.7" width="2.1" height="9.7"/><rect x="251.29" y="235.3" width="2.1" height="17.2"/><rect x="254.50" y="230.0" width="2.1" height="5.4"/><rect x="257.71" y="226.2" width="2.1" height="3.8"/><rect x="260.92" y="214.1" width="2.1" height="11.9"/><rect x="267.34" y="215.3" width="2.1" height="7.3"/><rect x="270.55" y="206.7" width="2.1" height="8.8"/><rect x="273.76" y="182.1" width="2.1" height="24.4"/><rect x="276.97" y="166.6" width="2.1" height="15.8"/><rect x="280.18" y="161.1" width="2.1" height="5.5"/><rect x="283.39" y="154.5" width="2.1" height="6.6"/><rect x="286.60" y="128.8" width="2.1" height="25.7"/><rect x="289.81" y="88.1" width="2.1" height="40.7"/><rect x="296.23" y="108.6" width="2.1" height="40.9"/><rect x="309.07" y="161.1" width="2.1" height="8.9"/><rect x="312.28" y="121.0" width="2.1" height="39.8"/><rect x="321.91" y="147.2" width="2.1" height="8.0"/><rect x="325.12" y="139.4" width="2.1" height="7.8"/><rect x="328.33" y="110.6" width="2.1" height="28.6"/><rect x="331.54" y="101.0" width="2.1" height="9.4"/><rect x="341.17" y="127.6" width="2.1" height="15.8"/><rect x="350.80" y="160.7" width="2.1" height="22.9"/><rect x="357.22" y="200.4" width="2.1" height="10.2"/><rect x="360.43" y="167.7" width="2.1" height="32.7"/><rect x="366.85" y="163.5" width="2.1" height="8.0"/><rect x="382.90" y="194.3" width="2.1" height="4.1"/><rect x="398.95" y="205.0" width="2.1" height="3.3"/><rect x="402.16" y="187.3" width="2.1" height="17.5"/><rect x="405.37" y="176.4" width="2.1" height="10.5"/><rect x="408.58" y="172.1" width="2.1" height="4.3"/><rect x="411.79" y="161.6" width="2.1" height="10.5"/><rect x="415.00" y="155.9" width="2.1" height="6.1"/><rect x="418.21" y="127.3" width="2.1" height="28.6"/><rect x="424.63" y="121.6" width="2.1" height="17.7"/><rect x="437.47" y="136.6" width="2.1" height="8.8"/><rect x="450.31" y="180.0" width="2.1" height="9.6"/><rect x="459.94" y="179.2" width="2.1" height="3.8"/><rect x="463.15" y="158.5" width="2.1" height="20.5"/><rect x="475.99" y="175.6" width="2.1" height="10.2"/><rect x="485.62" y="177.8" width="2.1" height="7.3"/><rect x="498.46" y="205.0" width="2.1" height="3.1"/><rect x="504.88" y="198.5" width="2.1" height="5.8"/><rect x="508.09" y="177.0" width="2.1" height="21.4"/><rect x="511.30" y="168.3" width="2.1" height="8.7"/><rect x="524.14" y="173.4" width="2.1" height="6.2"/><rect x="536.98" y="184.6" width="2.1" height="2.4"/><rect x="540.19" y="175.5" width="2.1" height="9.1"/><rect x="562.66" y="180.5" width="2.1" height="3.9"/><rect x="588.34" y="253.4" width="2.1" height="4.4"/><rect x="597.97" y="249.3" width="2.1" height="9.0"/><rect x="620.44" y="260.0" width="2.1" height="4.8"/></g>
<g fill="#960a0a" stroke="#111" stroke-width="0.55"><rect x="23.38" y="365.6" width="2.1" height="2.6"/><rect x="39.43" y="354.0" width="2.1" height="4.2"/><rect x="45.85" y="353.5" width="2.1" height="9.5"/><rect x="58.69" y="359.6" width="2.1" height="3.2"/><rect x="87.58" y="346.4" width="2.1" height="3.1"/><rect x="90.79" y="349.3" width="2.1" height="10.7"/><rect x="145.36" y="287.9" width="2.1" height="8.0"/><rect x="158.20" y="252.6" width="2.1" height="11.6"/><rect x="161.41" y="264.2" width="2.1" height="17.8"/><rect x="164.62" y="282.0" width="2.1" height="4.4"/><rect x="171.04" y="253.3" width="2.1" height="6.9"/><rect x="177.46" y="261.2" width="2.1" height="11.9"/><rect x="203.14" y="236.2" width="2.1" height="14.0"/><rect x="215.98" y="234.2" width="2.1" height="21.6"/><rect x="219.19" y="256.0" width="2.1" height="15.3"/><rect x="232.03" y="260.2" width="2.1" height="2.4"/><rect x="235.24" y="262.4" width="2.1" height="10.7"/><rect x="241.66" y="259.4" width="2.1" height="3.2"/><rect x="264.13" y="214.1" width="2.1" height="8.3"/><rect x="293.02" y="88.1" width="2.1" height="61.4"/><rect x="299.44" y="108.6" width="2.1" height="16.8"/><rect x="302.65" y="125.4" width="2.1" height="38.3"/><rect x="305.86" y="163.7" width="2.1" height="5.9"/><rect x="315.49" y="121.2" width="2.1" height="29.3"/><rect x="318.70" y="150.5" width="2.1" height="4.7"/><rect x="334.75" y="101.0" width="2.1" height="16.1"/><rect x="337.96" y="117.3" width="2.1" height="26.0"/><rect x="344.38" y="127.4" width="2.1" height="15.0"/><rect x="347.59" y="142.2" width="2.1" height="41.4"/><rect x="354.01" y="160.7" width="2.1" height="49.9"/><rect x="363.64" y="168.0" width="2.1" height="3.5"/><rect x="370.06" y="163.5" width="2.1" height="6.1"/><rect x="373.27" y="170.0" width="2.1" height="8.9"/><rect x="376.48" y="179.2" width="2.1" height="16.6"/><rect x="379.69" y="195.9" width="2.1" height="2.5"/><rect x="389.32" y="195.9" width="2.1" height="12.6"/><rect x="421.42" y="127.3" width="2.1" height="11.9"/><rect x="431.05" y="121.0" width="2.1" height="4.1"/><rect x="434.26" y="125.2" width="2.1" height="20.2"/><rect x="440.68" y="136.6" width="2.1" height="4.7"/><rect x="443.89" y="141.3" width="2.1" height="18.9"/><rect x="447.10" y="160.3" width="2.1" height="29.3"/><rect x="456.73" y="178.2" width="2.1" height="4.6"/><rect x="466.36" y="158.4" width="2.1" height="4.8"/><rect x="469.57" y="163.2" width="2.1" height="22.2"/><rect x="479.20" y="175.6" width="2.1" height="9.5"/><rect x="488.83" y="177.6" width="2.1" height="6.4"/><rect x="492.04" y="184.2" width="2.1" height="15.8"/><rect x="495.25" y="200.1" width="2.1" height="8.0"/><rect x="520.93" y="170.2" width="2.1" height="9.4"/><rect x="527.35" y="173.4" width="2.1" height="2.8"/><rect x="530.56" y="176.3" width="2.1" height="3.3"/><rect x="533.77" y="179.7" width="2.1" height="7.3"/><rect x="556.24" y="181.4" width="2.1" height="2.4"/><rect x="565.87" y="180.5" width="2.1" height="3.7"/><rect x="569.08" y="184.6" width="2.1" height="6.4"/><rect x="575.50" y="189.4" width="2.1" height="11.4"/><rect x="578.71" y="200.8" width="2.1" height="40.7"/><rect x="581.92" y="241.5" width="2.1" height="3.0"/><rect x="585.13" y="244.5" width="2.1" height="13.3"/><rect x="594.76" y="253.0" width="2.1" height="5.3"/><rect x="607.60" y="246.6" width="2.1" height="5.3"/><rect x="610.81" y="252.0" width="2.1" height="2.4"/><rect x="617.23" y="254.5" width="2.1" height="10.3"/></g>
<g fill="#0c7a0c" stroke="#111" stroke-width="0.8"><rect x="13.75" y="394.7" width="2.1" height="2.3"/><rect x="49.06" y="361.3" width="2.1" height="1.7"/><rect x="55.48" y="359.6" width="2.1" height="2.2"/><rect x="65.11" y="356.0" width="2.1" height="1.3"/><rect x="68.32" y="354.6" width="2.1" height="1.9"/><rect x="74.74" y="353.0" width="2.1" height="1.4"/><rect x="97.21" y="358.0" width="2.1" height="1.4"/><rect x="100.42" y="357.7" width="2.1" height="1.5"/><rect x="110.05" y="353.0" width="2.1" height="2.0"/><rect x="113.26" y="350.9" width="2.1" height="2.3"/><rect x="392.53" y="206.8" width="2.1" height="1.8"/><rect x="453.52" y="178.2" width="2.1" height="1.6"/><rect x="572.29" y="189.4" width="2.1" height="1.6"/><rect x="604.39" y="246.6" width="2.1" height="2.2"/></g>
<g fill="#700808" stroke="#111" stroke-width="0.8"><rect x="77.95" y="353.1" width="2.1" height="1.7"/><rect x="103.63" y="358.0" width="2.1" height="1.8"/><rect x="122.89" y="337.5" width="2.1" height="2.1"/><rect x="174.25" y="259.7" width="2.1" height="2.0"/><rect x="196.72" y="233.0" width="2.1" height="1.7"/><rect x="199.93" y="234.7" width="2.1" height="1.8"/><rect x="386.11" y="194.3" width="2.1" height="1.6"/><rect x="395.74" y="206.9" width="2.1" height="1.4"/><rect x="514.51" y="168.3" width="2.1" height="1.8"/><rect x="543.40" y="175.5" width="2.1" height="1.9"/><rect x="549.82" y="177.8" width="2.1" height="2.2"/><rect x="553.03" y="179.7" width="2.1" height="1.5"/><rect x="559.45" y="183.0" width="2.1" height="1.6"/></g>
<path d="M287.7,53.7L704.7,239.6M310.1,202.2L676,291.1" stroke="#a850fb" stroke-width="1.2" fill="none" stroke-linecap="round"/>
</g>
<text x="12.8" y="52.7" font-size="11.2" fill="#5a5a5a" font-weight="bold" textLength="163.7" lengthAdjust="spacingAndGlyphs">Bitcoin / U.S. Dollar, 1D, COINBASE</text>
<path d="M5,424.9H855M5,488.9H855" stroke="#a6a6a6" stroke-width="2" fill="none"/>
<path d="M5,35.5H855M804.55,35V579.5M5,557.5H855" stroke="#6c6c6c" stroke-width="1" fill="none"/>
<path d="M5.5,35V579.8" stroke="#808080" stroke-width="1" fill="none"/>
<path d="M854.55,35V579.8M5,579.3H855" stroke="#858585" stroke-width="1" fill="none"/>
<text x="811.7" y="53.5" font-size="8.5" fill="#4a4a4a" textLength="35.3" lengthAdjust="spacingAndGlyphs" stroke="#4a4a4a" stroke-width="0.25">14000.00</text>
<text x="811.7" y="88.5" font-size="8.5" fill="#4a4a4a" textLength="35.3" lengthAdjust="spacingAndGlyphs" stroke="#4a4a4a" stroke-width="0.25">13000.00</text>
<text x="811.7" y="123.5" font-size="8.5" fill="#4a4a4a" textLength="35.3" lengthAdjust="spacingAndGlyphs" stroke="#4a4a4a" stroke-width="0.25">12000.00</text>
<text x="811.7" y="158.5" font-size="8.5" fill="#4a4a4a" textLength="35.3" lengthAdjust="spacingAndGlyphs" stroke="#4a4a4a" stroke-width="0.25">11000.00</text>
<text x="811.7" y="193.5" font-size="8.5" fill="#4a4a4a" textLength="35.3" lengthAdjust="spacingAndGlyphs" stroke="#4a4a4a" stroke-width="0.25">10000.00</text>
<text x="811.7" y="228.5" font-size="8.5" fill="#4a4a4a" textLength="31.1" lengthAdjust="spacingAndGlyphs" stroke="#4a4a4a" stroke-width="0.25">9000.00</text>
<text x="811.7" y="298.5" font-size="8.5" fill="#4a4a4a" textLength="31.1" lengthAdjust="spacingAndGlyphs" stroke="#4a4a4a" stroke-width="0.25">7000.00</text>
<text x="811.7" y="333.5" font-size="8.5" fill="#4a4a4a" textLength="31.1" lengthAdjust="spacingAndGlyphs" stroke="#4a4a4a" stroke-width="0.25">6000.00</text>
<text x="811.7" y="368.5" font-size="8.5" fill="#4a4a4a" textLength="31.1" lengthAdjust="spacingAndGlyphs" stroke="#4a4a4a" stroke-width="0.25">5000.00</text>
<text x="811.7" y="403.5" font-size="8.5" fill="#4a4a4a" textLength="31.1" lengthAdjust="spacingAndGlyphs" stroke="#4a4a4a" stroke-width="0.25">4000.00</text>
<path d="M805,50.5H808M805,85.5H808M805,120.5H808M805,155.5H808M805,190.5H808M805,225.5H808M805,295.5H808M805,330.5H808M805,365.5H808M805,400.5H808M805,445.5H808M805,469.5H808M805,512.5H808M805,537.5H808" stroke="#6a6a6a" stroke-width="1" fill="none"/>
<text x="811.7" y="448.6" font-size="8.5" fill="#4a4a4a" textLength="26.2" lengthAdjust="spacingAndGlyphs" stroke="#4a4a4a" stroke-width="0.25">100.00</text>
<text x="811.7" y="472.6" font-size="8.5" fill="#4a4a4a" textLength="21.6" lengthAdjust="spacingAndGlyphs" stroke="#4a4a4a" stroke-width="0.25">50.00</text>
<text x="811.7" y="515.6" font-size="8.5" fill="#4a4a4a" textLength="21.6" lengthAdjust="spacingAndGlyphs" stroke="#4a4a4a" stroke-width="0.25">80.00</text>
<text x="811.7" y="540.6" font-size="8.5" fill="#4a4a4a" textLength="21.6" lengthAdjust="spacingAndGlyphs" stroke="#4a4a4a" stroke-width="0.25">40.00</text>
<rect x="781.1" y="195.5" width="22.1" height="13.8" fill="#3f3fb3"/>
<text x="787.5" y="205.6" font-size="8.4" fill="#fff" textLength="11.8" lengthAdjust="spacingAndGlyphs">MA</text>
<rect x="781.1" y="234" width="22.1" height="13.5" fill="#ff0000"/>
<text x="787.5" y="243.8" font-size="8.4" fill="#fff" textLength="11.8" lengthAdjust="spacingAndGlyphs">MA</text>
<rect x="761.8" y="253.2" width="41.4" height="13.7" fill="#00ff00"/>
<rect x="803.8" y="253.2" width="45.7" height="13.7" fill="#00ff00"/>
<path d="M805,260.4H807.2" stroke="#2a6a2a" stroke-width="1"/>
<text x="768.6" y="262.9" font-size="8.4" fill="#0c1c0c" font-weight="bold" textLength="30.5" lengthAdjust="spacingAndGlyphs">BTCUSD</text>
<text x="811.6" y="262.9" font-size="8.4" fill="#0c1c0c" font-weight="bold" textLength="30.5" lengthAdjust="spacingAndGlyphs">7995.82</text>
<rect x="781.2" y="466.6" width="21.9" height="13.8" fill="#8e1ba6"/>
<text x="787.8" y="476.3" font-size="8.3" fill="#fff" textLength="12.2" lengthAdjust="spacingAndGlyphs">RSI</text>
<rect x="782.3" y="532.5" width="20.7" height="13.5" fill="#ea5530"/>
<text x="788.9" y="542" font-size="8" fill="#ffe9e2" textLength="10.7" lengthAdjust="spacingAndGlyphs">%D</text>
<rect x="783.2" y="546" width="19.8" height="11" fill="#1e88f2"/>
<text x="789.4" y="555.7" font-size="8" fill="#e4f1ff" textLength="10.7" lengthAdjust="spacingAndGlyphs">%K</text>
<g clip-path="url(#ct)">
<text x="15.4" y="572.1" font-size="8.8" fill="#4a4a4a" text-anchor="middle" textLength="14.4" lengthAdjust="spacingAndGlyphs" stroke="#4a4a4a" stroke-width="0.25">Apr</text>
<text x="111.3" y="572.1" font-size="8.8" fill="#4a4a4a" text-anchor="middle" textLength="15.8" lengthAdjust="spacingAndGlyphs" stroke="#4a4a4a" stroke-width="0.25">May</text>
<text x="211.4" y="572.1" font-size="8.8" fill="#4a4a4a" text-anchor="middle" textLength="13.8" lengthAdjust="spacingAndGlyphs" stroke="#4a4a4a" stroke-width="0.25">Jun</text>
<text x="307.5" y="572.1" font-size="8.8" fill="#4a4a4a" text-anchor="middle" textLength="10.5" lengthAdjust="spacingAndGlyphs" stroke="#4a4a4a" stroke-width="0.25">Jul</text>
<text x="406.6" y="572.1" font-size="8.8" fill="#4a4a4a" text-anchor="middle" textLength="14.8" lengthAdjust="spacingAndGlyphs" stroke="#4a4a4a" stroke-width="0.25">Aug</text>
<text x="506.5" y="572.1" font-size="8.8" fill="#4a4a4a" text-anchor="middle" textLength="15" lengthAdjust="spacingAndGlyphs" stroke="#4a4a4a" stroke-width="0.25">Sep</text>
<text x="603.2" y="572.1" font-size="8.8" fill="#4a4a4a" text-anchor="middle" textLength="14" lengthAdjust="spacingAndGlyphs" stroke="#4a4a4a" stroke-width="0.25">Oct</text>
<text x="702.7" y="572.1" font-size="8.8" fill="#4a4a4a" text-anchor="middle" textLength="15.4" lengthAdjust="spacingAndGlyphs" stroke="#4a4a4a" stroke-width="0.25">Nov</text>
<text x="798.3" y="572.1" font-size="8.8" fill="#4a4a4a" text-anchor="middle" textLength="14.5" lengthAdjust="spacingAndGlyphs" stroke="#4a4a4a" stroke-width="0.25">Dec</text>
<path d="M15.4,558V560.5M111.3,558V560.5M211.4,558V560.5M307.5,558V560.5M406.6,558V560.5M506.5,558V560.5M603.2,558V560.5M702.7,558V560.5M798.3,558V560.5" stroke="#5a5a5a" stroke-width="1" fill="none"/>
</g>
<text x="5.2" y="598" font-size="9.8" fill="#1c1c1c" textLength="58" lengthAdjust="spacingAndGlyphs" stroke="#1c1c1c" stroke-width="0.2">Created with</text>
<path d="M66.4,596 C66.4,594.6 67.2,593.5 68.5,593 C69.3,592.7 70,592.5 70.3,591.6 C71,589.3 73,587.8 75.3,587.8 C77.3,587.8 78.8,588.7 79.8,590 C80.6,590.4 81.6,590.6 82.4,591.4 C84.6,592.7 85.8,595 85.8,597 C85.8,598.8 85,599.9 83.8,599.9 L69.4,599.9 C67.6,599.9 66.4,598 66.4,596 Z" fill="#58bde9"/>
<path d="M67.7,597.7 L73.3,592.8 L77.9,598.2 L83.4,591.3" fill="none" stroke="#fff" stroke-width="1.35" stroke-linejoin="miter"/>
<text x="86.1" y="598" font-size="9.7" fill="#46aee6" textLength="56.7" lengthAdjust="spacingAndGlyphs" stroke="#46aee6" stroke-width="0.2">TradingView</text>
</svg></body></html>
